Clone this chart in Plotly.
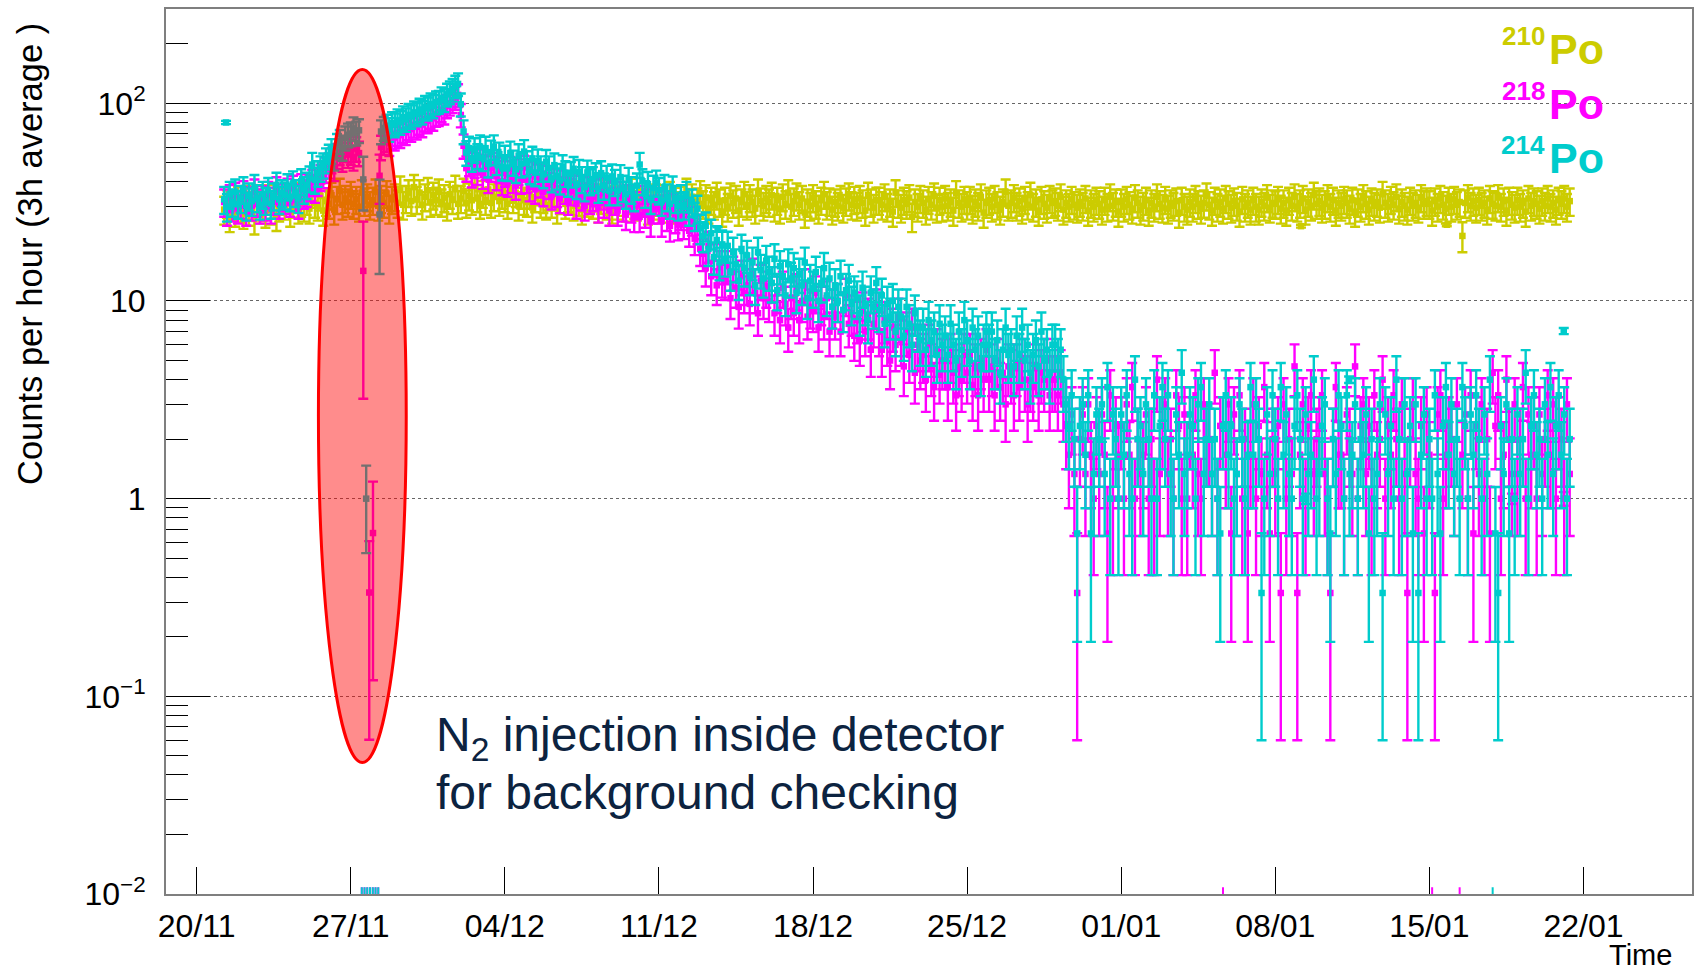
import numpy as np
import pandas as pd
import plotly.graph_objects as go

# Counts recorded in each 3 h bin, one row per day (first day starts 06:00, last ends 09:00)
BIN_START = "2022-11-21 06:00"
BIN_HOURS = 3
# relative systematic uncertainty, added in quadrature to the Poisson term
SYST_REL = 0.12

po210_counts = [
    [87, 94, 80, 91, 85, 98],                 # 21/11
    [89, 83, 99, 86, 92, 78, 95, 88],
    [91, 84, 100, 87, 93, 81, 90, 97],
    [92, 101, 85, 94, 103, 88, 95, 90],
    [97, 88, 105, 94, 91, 102, 86, 96],
    [93, 103, 87, 98, 108, 92, 99, 95],
    [104, 93, 98, 90, 106, 96, 101, 92],
    [97, 107, 91, 99, 94, 105, 88, 98],
    [101, 94, 111, 92, 99, 106, 96, 113],
    [98, 106, 92, 101, 109, 95, 103, 97],     # 30/11
    [107, 95, 100, 91, 104, 98, 112, 93],     # 01/12
    [99, 108, 94, 102, 97, 114, 100, 93],
    [105, 97, 110, 94, 101, 116, 96, 104],
    [100, 93, 111, 99, 106, 91, 104, 97],
    [95, 104, 89, 100, 108, 94, 99, 92],
    [102, 94, 106, 88, 98, 110, 93, 100],
    [97, 91, 105, 96, 87, 102, 95, 99],
    [93, 101, 89, 98, 106, 92, 97, 88],
    [99, 92, 104, 96, 90, 98, 108, 93],
    [91, 99, 95, 103, 87, 97, 92, 101],
    [96, 89, 100, 93, 104, 88, 97, 92],
    [98, 91, 108, 95, 101, 89, 96, 105],
    [93, 100, 88, 97, 92, 103, 95, 85],
    [97, 90, 102, 94, 99, 86, 95, 104],
    [92, 100, 95, 88, 107, 96, 91, 99],
    [95, 103, 90, 97, 88, 101, 93, 106],
    [90, 96, 102, 92, 99, 84, 95, 91],
    [100, 93, 88, 97, 104, 92, 96, 87],
    [95, 91, 99, 89, 96, 102, 92, 98],
    [91, 99, 94, 86, 103, 95, 89, 97],
    [97, 92, 101, 90, 95, 85, 106, 94],
    [89, 97, 93, 100, 80, 95, 90, 99],
    [94, 87, 98, 92, 102, 89, 97, 90],
    [99, 91, 95, 86, 105, 94, 90, 98],
    [92, 98, 88, 95, 91, 101, 84, 94],
    [97, 90, 99, 92, 87, 95, 107, 91],
    [94, 100, 91, 96, 88, 98, 92, 103],
    [90, 95, 86, 98, 93, 89, 99, 94],
    [96, 91, 101, 87, 94, 90, 98, 92],
    [89, 95, 91, 99, 86, 94, 90, 97],
    [93, 87, 97, 90, 101, 91, 95, 85],        # 31/12
    [95, 90, 98, 92, 88, 100, 94, 87],        # 01/01
    [91, 97, 86, 94, 90, 101, 93, 89],
    [98, 88, 94, 91, 96, 84, 97, 90],
    [87, 95, 90, 99, 93, 88, 94, 102],
    [92, 86, 97, 90, 95, 88, 99, 93],
    [89, 96, 91, 85, 98, 90, 94, 87],
    [97, 90, 87, 95, 91, 100, 89, 94],
    [93, 98, 88, 94, 86, 97, 91, 101],
    [90, 94, 99, 87, 95, 91, 103, 93],
    [96, 89, 93, 100, 90, 97, 86, 94],
    [91, 98, 94, 88, 97, 85, 95, 90],
    [100, 93, 87, 96, 91, 95, 89, 104],
    [94, 90, 98, 92, 101, 88, 95, 91],
    [87, 97, 91, 94, 89, 100, 93, 96],
    [93, 86, 96, 90, 99, 92, 88, 97],
    [90, 98, 92, 95, 64, 94, 100, 91],
    [96, 89, 97, 91, 94, 87, 99, 93],
    [91, 100, 90, 96, 86, 97, 92, 89],
    [97, 90, 94, 85, 99, 91, 96, 93],
    [88, 96, 91, 99, 90, 94, 87, 97],
    [93, 99, 90, 96],                         # 21/01
]

po218_counts = [
    [95, 86, 100, 90, 103, 88],               # 21/11
    [93, 105, 86, 98, 91, 107, 95, 88],
    [99, 91, 104, 88, 97, 110, 93, 101],
    [98, 108, 95, 112, 101, 93, 114, 104],
    [106, 113, 120, 111, 120, 127, 131, 139],
    [146, 155, 142, 163, 170, 158, 176, 165],
    [171, 160, 177, 168, 0, 0, 0, 0],
    [0, 0, 0, 180, 192, 198, 189, 204],
    [201, 212, 207, 219, 214, 226, 222, 233],
    [228, 241, 234, 250, 245, 258, 252, 264],  # 30/11
    [266, 278, 271, 291, 300, 309, 321, 331],  # 01/12
    [262, 183, 141, 150, 132, 147, 136, 153],
    [130, 144, 124, 141, 147, 128, 139, 121],
    [133, 119, 140, 124, 115, 136, 123, 142],
    [124, 113, 132, 110, 128, 118, 107, 126],
    [116, 103, 121, 106, 99, 119, 110, 97],
    [108, 115, 93, 112, 102, 91, 110, 98],
    [101, 107, 89, 109, 94, 103, 86, 105],
    [97, 86, 104, 90, 82, 100, 89, 80],
    [92, 80, 99, 84, 95, 76, 88, 97],
    [88, 76, 93, 81, 72, 90, 79, 73],
    [82, 74, 85, 68, 77, 62, 70, 55],          # 12/12
    [52, 44, 57, 40, 49, 36, 45, 39],
    [38, 45, 31, 42, 35, 28, 40, 33],
    [36, 29, 41, 33, 26, 38, 31, 35],
    [30, 37, 26, 33, 24, 35, 29, 22],
    [31, 26, 34, 24, 30, 36, 25, 28],
    [27, 33, 22, 29, 25, 31, 21, 28],
    [25, 30, 21, 27, 32, 23, 26, 20],
    [24, 19, 27, 21, 25, 17, 23, 28],
    [21, 17, 24, 19, 15, 22, 18, 25],
    [19, 14, 21, 16, 22, 13, 18, 15],
    [16, 12, 18, 14, 11, 17, 13, 15],
    [15, 11, 16, 13, 10, 14, 12, 16],
    [13, 16, 11, 14, 10, 15, 12, 17],
    [12, 14, 10, 15, 11, 13, 9, 14],
    [13, 10, 14, 11, 15, 12, 9, 12],
    [11, 14, 10, 13, 12, 15, 10, 12],
    [12, 10, 13, 9, 7, 5, 8, 4],
    [1, 6, 8, 4, 9, 5, 3, 7],
    [4, 8, 5, 2, 10, 3, 7, 5],                 # 31/12
    [7, 3, 9, 5, 11, 3, 6, 4],                 # 01/01
    [5, 8, 3, 6, 3, 12, 4, 7],
    [9, 4, 6, 3, 10, 7, 3, 8],
    [3, 7, 5, 10, 4, 3, 9, 6],
    [6, 4, 13, 3, 7, 0, 5, 9],
    [2, 8, 4, 10, 3, 6, 2, 5],
    [9, 3, 7, 4, 11, 5, 2, 6],
    [4, 7, 1, 9, 3, 6, 4, 14],
    [1, 5, 9, 3, 7, 10, 4, 6],
    [7, 10, 4, 3, 1, 6, 11, 5],
    [5, 3, 8, 6, 4, 14, 3, 7],
    [9, 4, 7, 3, 10, 5, 6, 12],
    [3, 7, 5, 10, 6, 3, 9, 4],
    [1, 6, 9, 4, 3, 7, 2, 8],
    [5, 0, 1, 8, 10, 3, 5, 7],
    [6, 4, 9, 0, 5, 8, 3, 10],
    [2, 7, 4, 9, 3, 6, 2, 13],
    [7, 10, 3, 5, 12, 6, 4, 9],
    [4, 6, 11, 3, 8, 5, 7, 3],
    [8, 4, 6, 10, 5, 9, 3, 7],
    [6, 3, 9, 4],                              # 21/01
]

po214_counts = [
    [98, 90, 104, 95, 107, 93],               # 21/11
    [99, 110, 91, 102, 96, 113, 100, 92],
    [104, 97, 109, 93, 102, 116, 98, 106],
    [103, 114, 101, 118, 106, 99, 121, 110],
    [116, 125, 147, 123, 133, 141, 146, 155],
    [162, 173, 160, 184, 193, 179, 201, 208],
    [211, 224, 213, 219, 0, 0, 0, 0],
    [0, 0, 0, 216, 225, 231, 222, 238],
    [234, 246, 241, 255, 249, 262, 258, 270],
    [265, 279, 271, 288, 283, 297, 291, 304],  # 30/11
    [306, 319, 312, 333, 342, 352, 366, 376],  # 01/12
    [297, 216, 169, 178, 158, 175, 163, 181],
    [159, 178, 148, 170, 181, 152, 166, 143],
    [160, 142, 168, 151, 139, 163, 148, 171],
    [150, 137, 158, 134, 153, 141, 131, 152],
    [141, 125, 146, 129, 122, 143, 133, 119],
    [132, 140, 116, 135, 124, 113, 134, 121],
    [124, 130, 111, 133, 115, 126, 108, 128],
    [120, 108, 127, 112, 104, 123, 110, 101],
    [115, 147, 121, 105, 117, 98, 112, 119],
    [109, 96, 113, 101, 93, 111, 99, 91],
    [100, 92, 104, 86, 95, 81, 88, 70],        # 12/12
    [64, 72, 55, 66, 50, 61, 47, 58],
    [49, 57, 42, 53, 46, 38, 55, 44],
    [51, 40, 47, 36, 53, 43, 39, 48],
    [42, 37, 49, 34, 45, 40, 32, 46],
    [39, 44, 33, 41, 36, 47, 31, 38],
    [35, 42, 30, 37, 44, 32, 39, 28],
    [36, 30, 40, 27, 34, 38, 29, 33],
    [31, 26, 35, 29, 24, 33, 28, 37],
    [27, 32, 23, 29, 25, 30, 21, 28],
    [25, 20, 28, 23, 18, 26, 22, 19],
    [22, 17, 24, 19, 21, 16, 23, 18],
    [20, 16, 23, 18, 15, 21, 17, 24],
    [19, 15, 22, 17, 20, 14, 18, 21],
    [18, 21, 15, 19, 13, 17, 22, 16],
    [17, 14, 20, 16, 22, 15, 18, 13],
    [16, 19, 14, 21, 15, 17, 13, 18],
    [18, 15, 17, 12, 9, 7, 10, 6],
    [2, 7, 9, 5, 10, 2, 4, 8],
    [6, 9, 4, 11, 3, 8, 6, 3],                 # 31/12
    [8, 5, 10, 4, 3, 12, 6, 7],                # 01/01
    [4, 9, 6, 3, 10, 3, 7, 11],
    [6, 10, 4, 3, 8, 5, 13, 4],
    [5, 8, 7, 3, 9, 11, 4, 6],
    [9, 4, 6, 3, 2, 7, 10, 5],
    [7, 3, 4, 9, 6, 3, 5, 11],
    [5, 9, 6, 1, 3, 8, 4, 10],
    [6, 3, 11, 5, 8, 4, 3, 7],
    [10, 6, 3, 8, 4, 5, 12, 3],
    [4, 7, 9, 3, 2, 6, 4, 10],
    [7, 3, 10, 4, 5, 9, 3, 6],
    [5, 8, 2, 6, 3, 4, 9, 1],
    [8, 4, 7, 3, 12, 6, 3, 9],
    [4, 7, 2, 9, 1, 5, 8, 3],
    [6, 3, 10, 4, 2, 7, 11, 5],
    [9, 4, 6, 3, 11, 7, 3, 8],
    [5, 10, 6, 3, 8, 4, 12, 0],
    [2, 1, 7, 4, 9, 2, 6, 3],
    [8, 4, 6, 13, 3, 7, 10, 5],
    [6, 3, 9, 5, 11, 4, 7, 10],
    [5, 8, 3, 6],                              # 21/01
]

# Short / partial acquisition windows (rate per hour and its uncertainty)
po210_extra_t = ["2023-01-09 04:00", "2023-01-15 19:00"]
po210_extra_v = [23.9, 24.3]
po210_extra_e = [0.4, 0.4]

po218_extra_t = ["2022-11-27 13:40", "2022-11-27 20:10", "2022-11-28 00:15",
                 "2022-11-28 07:25", "2023-01-18 18:00", "2023-01-21 02:30"]
po218_extra_v = [14.2, 0.335, 0.67, 43.0, 1.0, 1.0]
po218_extra_e = [11.0, 0.275, 0.55, 12.0, 0.06, 0.08]

po214_extra_t = ["2022-11-21 08:00", "2022-11-27 13:40", "2022-11-27 16:50",
                 "2022-11-28 07:25", "2022-12-13 16:00", "2023-01-09 09:30",
                 "2023-01-11 08:30", "2023-01-21 02:30"]
po214_extra_v = [80.0, 41.2, 1.0, 27.4, 23.0, 1.0, 4.0, 7.05]
po214_extra_e = [1.5, 12.5, 0.47, 13.7, 0.6, 0.06, 0.15, 0.25]

COL_210 = "#cccc00"
COL_218 = "#ff00ff"
COL_214 = "#00cccc"

Y_MIN, Y_MAX = 0.01, 300.0
Y_FLOOR = 0.0103          # where empty bins are pinned on the log axis
FONT = "Liberation Sans, Arial, Helvetica, sans-serif"
MARKER_SIZE = 6.5

fig = go.Figure()


def err_style(color, up, down):
    return dict(type="data", symmetric=False, array=up, arrayminus=down,
                color=color, thickness=2.4, width=5)


def add_series(rows, color):
    counts = np.array([c for row in rows for c in row], dtype=float)
    t = pd.date_range(BIN_START, periods=len(counts), freq=f"{BIN_HOURS}h")
    rate = counts / BIN_HOURS
    err = np.sqrt(counts + (SYST_REL * counts) ** 2) / BIN_HOURS
    err_lo = np.minimum(err, 0.82 * rate)
    filled = counts > 0
    fig.add_trace(go.Scatter(
        x=t[filled], y=rate[filled], mode="markers",
        marker=dict(symbol="square", size=MARKER_SIZE, color=color),
        error_y=err_style(color, err[filled], err_lo[filled]),
        showlegend=False, hoverinfo="skip"))
    empty = ~filled
    if empty.any():
        fig.add_trace(go.Scatter(
            x=t[empty], y=np.full(int(empty.sum()), Y_FLOOR), mode="markers",
            marker=dict(symbol="line-ns", size=6, color=color,
                        line=dict(color=color, width=2)),
            showlegend=False, hoverinfo="skip"))


def add_extra(times, vals, errs, color):
    v = np.array(vals)
    e = np.array(errs)
    fig.add_trace(go.Scatter(
        x=pd.to_datetime(times), y=v, mode="markers",
        marker=dict(symbol="square", size=MARKER_SIZE, color=color),
        error_y=err_style(color, e, np.minimum(e, 0.82 * v)),
        showlegend=False, hoverinfo="skip"))


add_series(po210_counts, COL_210)
add_extra(po210_extra_t, po210_extra_v, po210_extra_e, COL_210)
add_series(po218_counts, COL_218)
add_extra(po218_extra_t, po218_extra_v, po218_extra_e, COL_218)
add_series(po214_counts, COL_214)
add_extra(po214_extra_t, po214_extra_v, po214_extra_e, COL_214)

# Axes
major_y = [0.01, 0.1, 1, 10, 100]
major_y_text = ["10<sup>\u22122</sup>", "10<sup>\u22121</sup>", "1", "10", "10<sup>2</sup>"]
minor_y = [m * 10.0 ** k for k in range(-2, 3) for m in range(2, 10) if m * 10.0 ** k <= Y_MAX]

fig.update_xaxes(
    type="date",
    range=["2022-11-18 14:34", "2023-01-26 22:20"],
    tick0="2022-11-20", dtick=7 * 24 * 3600 * 1000, tickformat="%d/%m",
    ticks="inside", ticklen=27, tickwidth=1, tickcolor="black",
    showline=True, linecolor="#7f7f7f", linewidth=2, mirror=True,
    showgrid=False, zeroline=False,
    tickfont=dict(family=FONT, size=32, color="black"),
    ticklabelstandoff=3,
)
fig.update_yaxes(
    type="log",
    range=[np.log10(Y_MIN), np.log10(Y_MAX)],
    tickmode="array", tickvals=major_y, ticktext=major_y_text,
    ticks="inside", ticklen=44, tickwidth=1, tickcolor="black",
    minor=dict(tickmode="array", tickvals=minor_y, ticks="inside",
               ticklen=22, tickwidth=1, tickcolor="black", showgrid=False),
    showline=True, linecolor="#7f7f7f", linewidth=2, mirror=True,
    showgrid=True, gridcolor="#666666", griddash="dot", gridwidth=1,
    zeroline=False,
    tickfont=dict(family=FONT, size=32, color="black"),
    ticklabelstandoff=12,
)

# Highlight of the nitrogen flush period
fig.add_shape(type="circle", xref="x", yref="paper",
              x0="2022-11-25 12:45", x1="2022-11-29 12:30",
              y0=0.1486, y1=0.9315,
              fillcolor="rgba(255,0,0,0.45)", line=dict(color="#ff0000", width=3),
              layer="above")

PLOT_L, PLOT_W = 165.5, 1528.0
PLOT_TOP, PLOT_H = 7.3, 886.4


def px_x(x):
    return (x - PLOT_L) / PLOT_W


def px_y(y):
    return 1 - (y - PLOT_TOP) / PLOT_H


annotations = [
    dict(text="Counts per hour (3h average )", textangle=-90,
         xref="paper", yref="paper", x=px_x(30), y=px_y(253),
         xanchor="center", yanchor="middle", showarrow=False,
         font=dict(family=FONT, size=34.5, color="black")),
    dict(text="Time", xref="paper", yref="paper", x=px_x(1675), y=px_y(955),
         xanchor="right", yanchor="middle", showarrow=False,
         font=dict(family=FONT, size=29, color="black")),
    dict(text="N<sub>2</sub> injection inside detector",
         xref="paper", yref="paper", x=px_x(434), y=px_y(737), align="left",
         xanchor="left", yanchor="middle", showarrow=False,
         font=dict(family=FONT, size=48, color="#0c2340")),
    dict(text="for background checking",
         xref="paper", yref="paper", x=px_x(434), y=px_y(792), align="left",
         xanchor="left", yanchor="middle", showarrow=False,
         font=dict(family=FONT, size=48, color="#0c2340")),
]

# Isotope labels, drawn as a small mass number followed by the symbol
legend_items = [("210", COL_210, 47), ("218", COL_218, 102), ("214", COL_214, 157)]
for mass, col, yc in legend_items:
    annotations.append(dict(text="<b>Po</b>", xref="paper", yref="paper",
                            x=px_x(1548), y=px_y(yc), xanchor="left", yanchor="middle",
                            showarrow=False, font=dict(family=FONT, size=43, color=col)))
    annotations.append(dict(text="<b>" + mass + "</b>", xref="paper", yref="paper",
                            x=px_x(1548), y=px_y(yc - 13), xanchor="right",
                            yanchor="middle", showarrow=False,
                            font=dict(family=FONT, size=26, color=col)))

fig.update_layout(
    width=1701, height=972,
    margin=dict(l=166, r=8, t=7, b=78),
    paper_bgcolor="white", plot_bgcolor="white",
    annotations=annotations,
    showlegend=False,
)

fig.write_html("out.html")
